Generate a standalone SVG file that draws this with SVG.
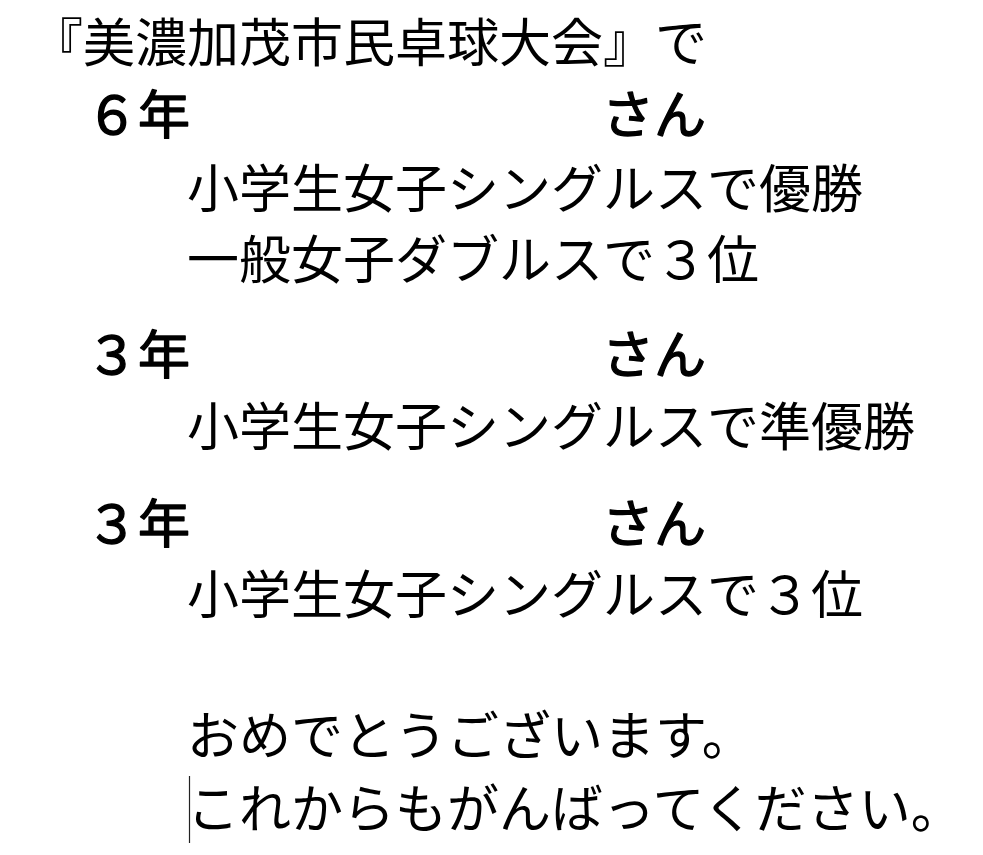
<svg xmlns="http://www.w3.org/2000/svg" width="983" height="855" viewBox="0 0 983 855">
<style>
text{font-family:"Noto Sans CJK JP","Noto Sans CJK SC",sans-serif;font-size:52px;fill:#000}
.h{stroke:#000;stroke-width:1.4;stroke-linejoin:round}
</style>
<rect width="983" height="855" fill="#fff"/>
<g id="title"><text x="31" y="62">『美濃加茂市民卓球大会』で</text></g>
<g id="p1">
<text class="h" x="86" y="134">６年</text>
<text class="h" x="602" y="134">さん</text>
<text x="187" y="208">小学生女子シングルスで優勝</text>
<text x="187" y="279">一般女子ダブルスで３位</text>
</g>
<g id="p2">
<text class="h" x="86" y="374">３年</text>
<text class="h" x="602" y="374">さん</text>
<text x="187" y="446">小学生女子シングルスで準優勝</text>
</g>
<g id="p3">
<text class="h" x="86" y="543">３年</text>
<text class="h" x="602" y="543">さん</text>
<text x="187" y="614">小学生女子シングルスで３位</text>
</g>
<g id="msg">
<text x="187" y="755">おめでとうございます。</text>
<text x="187" y="828">これからもがんばってください。</text>
</g>
<line x1="189.5" y1="776" x2="189.5" y2="843" stroke="#222" stroke-width="1.2"/>
</svg>
